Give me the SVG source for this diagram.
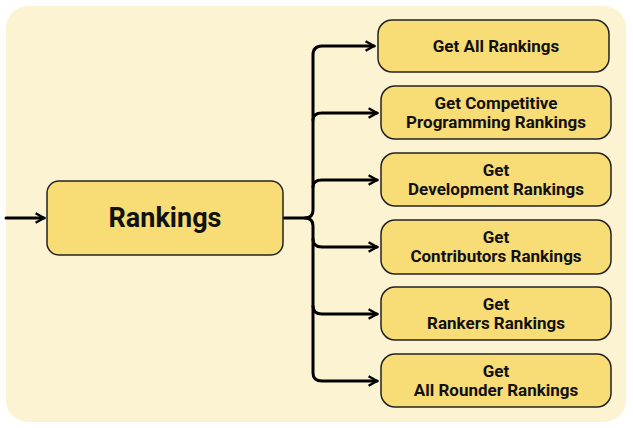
<svg xmlns="http://www.w3.org/2000/svg" width="633" height="428" viewBox="0 0 633 428">
<style>
.n{fill:#f8dc76;stroke:#222;stroke-width:1.5}
.t{font-family:Roboto,"Liberation Sans",sans-serif;font-weight:bold;font-size:17px;fill:#111;text-anchor:middle}
.c{fill:none;stroke:#000;stroke-width:3;stroke-linecap:round;stroke-linejoin:round}
</style>
<defs><marker id="a" viewBox="0 0 10 10" refX="8" refY="5" markerWidth="4" markerHeight="4" orient="auto" markerUnits="strokeWidth"><path d="M1,1 L8,5 L1,9" fill="none" stroke="#000" stroke-width="2"/></marker></defs>
<rect x="6" y="6" width="620" height="416" rx="22" fill="#fcf3d3"/>
<g id="connectors">
<path class="c" d="M6,218 H44" marker-end="url(#a)"/>
<path class="c" d="M284,218 H305 Q313,218 313,210 V55 Q313,46 322,46 H374" marker-end="url(#a)"/>
<path class="c" d="M313,120 Q313,113 322,113 H377" marker-end="url(#a)"/>
<path class="c" d="M313,187 Q313,180 322,180 H377" marker-end="url(#a)"/>
<path class="c" d="M305,218 Q313,218 313,226 V239 Q313,247 322,247 H377" marker-end="url(#a)"/>
<path class="c" d="M313,239 V306 Q313,314 322,314 H377" marker-end="url(#a)"/>
<path class="c" d="M313,306 V373 Q313,381 322,381 H377" marker-end="url(#a)"/>
</g>
<g id="rankings"><rect class="n" x="47" y="181" width="236" height="74" rx="12"/><text class="t" x="165" y="227" style="font-size:27px">Rankings</text></g>
<g id="n1"><rect class="n" x="378" y="20" width="231" height="52" rx="14"/><text class="t" x="496" y="52">Get All Rankings</text></g>
<g id="n2"><rect class="n" x="381" y="86" width="230" height="53" rx="14"/><text class="t" x="496" y="109">Get Competitive</text><text class="t" x="496" y="128">Programming Rankings</text></g>
<g id="n3"><rect class="n" x="381" y="153" width="230" height="53" rx="14"/><text class="t" x="496" y="176">Get</text><text class="t" x="496" y="195">Development Rankings</text></g>
<g id="n4"><rect class="n" x="381" y="220" width="230" height="54" rx="14"/><text class="t" x="496" y="243">Get</text><text class="t" x="496" y="262">Contributors Rankings</text></g>
<g id="n5"><rect class="n" x="381" y="287" width="230" height="53" rx="14"/><text class="t" x="496" y="310">Get</text><text class="t" x="496" y="329">Rankers Rankings</text></g>
<g id="n6"><rect class="n" x="381" y="354" width="230" height="53" rx="14"/><text class="t" x="496" y="377">Get</text><text class="t" x="496" y="396">All Rounder Rankings</text></g>
</svg>
